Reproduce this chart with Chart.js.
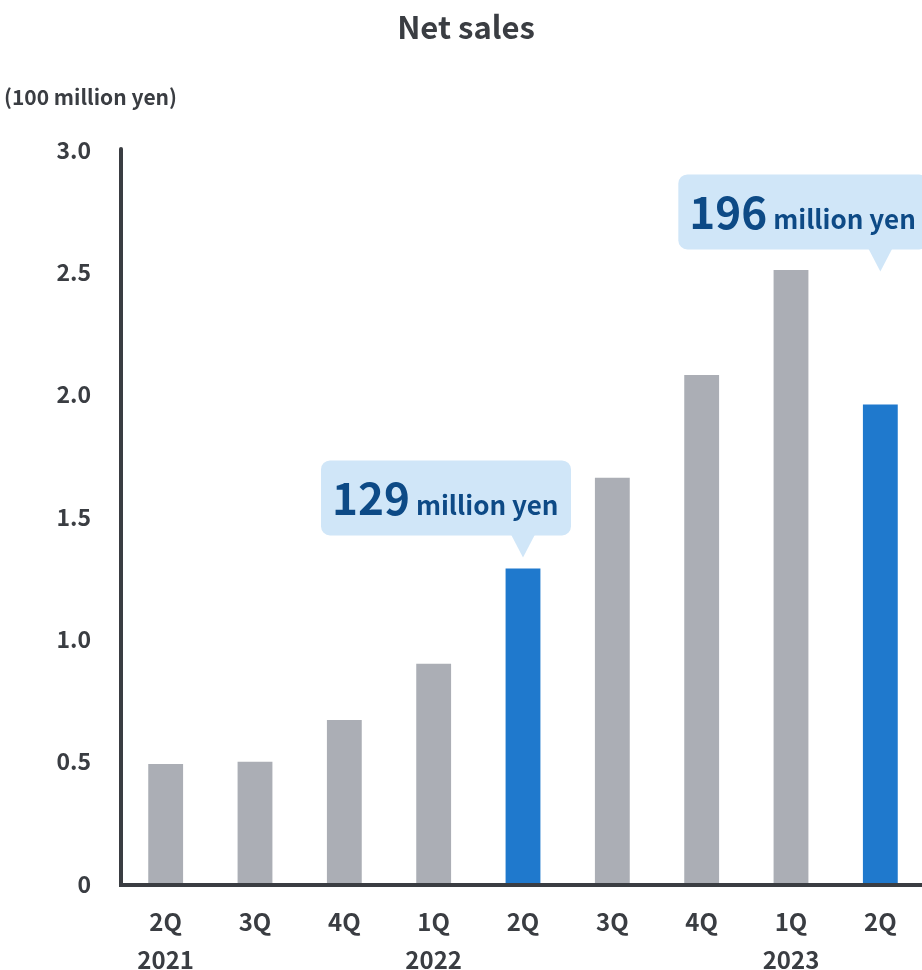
<!DOCTYPE html>
<html>
<head>
<meta charset="utf-8">
<title>Net sales</title>
<script src="https://cdn.jsdelivr.net/npm/chart.js@4/dist/chart.umd.min.js"></script>
<style>
  html, body { margin: 0; padding: 0; background: #fff; overflow: hidden; }
  #wrap { position: relative; width: 930px; height: 970px; }
</style>
</head>
<body>
<div id="wrap"><canvas id="salesChart"></canvas></div>
<script>
// --- data ---
const quarters = ['2Q', '3Q', '4Q', '1Q', '2Q', '3Q', '4Q', '1Q', '2Q'];
const years = ['2021', '', '', '2022', '', '', '', '2023', ''];
const netSales = [0.49, 0.50, 0.67, 0.90, 1.29, 1.66, 2.08, 2.51, 1.96]; // 100 million yen
const highlighted = [4, 8];
const yTicks = [0, 0.5, 1.0, 1.5, 2.0, 2.5, 3.0];

// --- styles ---
const FONT = "'Noto Sans CJK JP', 'Noto Sans', sans-serif";
const INK = '#3a3d42';
const GREY = '#abaeb5';
const BLUE = '#1f79cd';
const BUBBLE = '#d0e6f8';
const BUBBLE_TEXT = '#0d4a86';

// callout placement: how far the pointer tip sits above the bar top
const calloutLift = { 4: 11, 8: 133 };

const barColors = netSales.map((v, i) => highlighted.includes(i) ? BLUE : GREY);

// --- title, unit label, axes and callouts ---
const decorations = {
    id: 'decorations',
    beforeDraw(chart) {
        const { ctx } = chart;
        ctx.save();
        ctx.fillStyle = INK;
        ctx.textBaseline = 'middle';
        ctx.textAlign = 'center';
        ctx.font = `bold 31px ${FONT}`;
        ctx.fillText('Net sales', 466, 27);
        ctx.textAlign = 'left';
        ctx.font = `bold 21px ${FONT}`;
        ctx.fillText('(100 million yen)', 4, 97);
        ctx.restore();
    },
    afterDatasetsDraw(chart) {
        const { ctx, chartArea } = chart;
        const x = chart.scales.x;
        const y = chart.scales.y;
        ctx.save();

        // axis lines
        ctx.strokeStyle = INK;
        ctx.lineWidth = 4;
        ctx.lineCap = 'round';
        ctx.beginPath();
        ctx.moveTo(chartArea.left, y.getPixelForValue(3.0) - 1);
        ctx.lineTo(chartArea.left, y.getPixelForValue(0) + 1);
        ctx.stroke();
        ctx.lineCap = 'butt';
        ctx.beginPath();
        ctx.moveTo(chartArea.left - 2, y.getPixelForValue(0) + 1);
        ctx.lineTo(chart.width, y.getPixelForValue(0) + 1);
        ctx.stroke();

        // callouts
        highlighted.forEach(i => {
            const tipX = x.getPixelForValue(i);
            const tipY = y.getPixelForValue(netSales[i]) - calloutLift[i];
            const w = 250, h = 75, r = 9;
            const left = tipX - 202;
            const bottom = tipY - 22;
            const top = bottom - h;

            ctx.fillStyle = BUBBLE;
            ctx.beginPath();
            ctx.roundRect(left, top, w, h, r);
            ctx.fill();
            ctx.beginPath();
            ctx.moveTo(tipX - 12, bottom - 1);
            ctx.lineTo(tipX + 12, bottom - 1);
            ctx.lineTo(tipX, tipY);
            ctx.closePath();
            ctx.fill();

            const amount = String(Math.round(netSales[i] * 100));
            ctx.fillStyle = BUBBLE_TEXT;
            ctx.textBaseline = 'alphabetic';
            ctx.textAlign = 'left';
            ctx.font = `bold 44px ${FONT}`;
            const baseline = top + 55;
            ctx.fillText(amount, left + 11, baseline);
            const numW = ctx.measureText(amount).width;
            ctx.font = `bold 26px ${FONT}`;
            ctx.fillText('million yen', left + 11 + numW + 6, baseline);
        });
        ctx.restore();
    }
};

new Chart(document.getElementById('salesChart'), {
    type: 'bar',
    data: {
        labels: quarters.map((q, i) => [q, years[i]]),
        datasets: [{
            data: netSales,
            backgroundColor: barColors,
            borderWidth: 0,
            barPercentage: 0.39,
            categoryPercentage: 1.0
        }]
    },
    options: {
        responsive: true,
        maintainAspectRatio: false,
        animation: false,
        layout: { padding: { top: 150, right: 5, left: 0, bottom: 0 } },
        plugins: {
            legend: { display: false },
            tooltip: { enabled: false }
        },
        scales: {
            x: {
                grid: { display: false, drawTicks: false },
                border: { display: false },
                ticks: {
                    color: INK,
                    font: { family: FONT, size: 24, weight: 'bold', lineHeight: '38px' },
                    padding: 19,
                    maxRotation: 0,
                    autoSkip: false
                },
                afterFit: scale => { scale.height = 86; }
            },
            y: {
                min: 0,
                max: 3.0,
                afterBuildTicks: scale => { scale.ticks = yTicks.map(v => ({ value: v })); },
                grid: { display: false, drawTicks: false },
                border: { display: false },
                ticks: {
                    color: INK,
                    font: { family: FONT, size: 23, weight: 'bold' },
                    padding: 30,
                    callback: v => v === 0 ? '0' : v.toFixed(1)
                },
                afterFit: scale => { scale.width = 121; }
            }
        }
    },
    plugins: [decorations]
});
</script>
</body>
</html>
